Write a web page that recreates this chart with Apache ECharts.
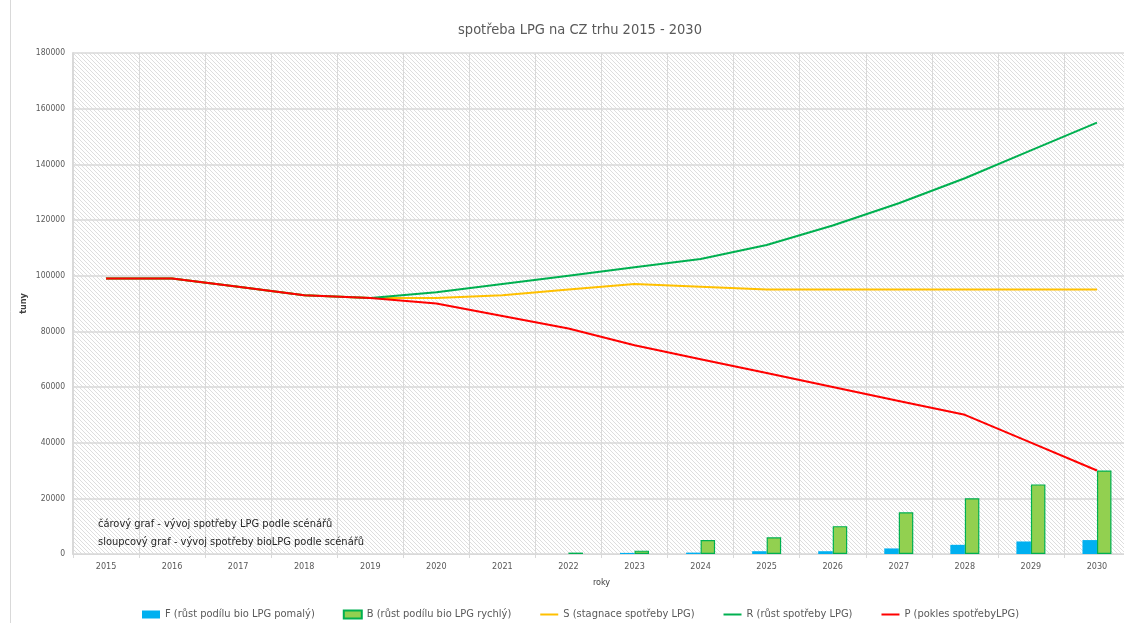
<!DOCTYPE html>
<html>
<head>
<meta charset="utf-8">
<script src="https://cdn.jsdelivr.net/npm/echarts@6/dist/echarts.min.js"></script>
<style>
  html, body { margin: 0; padding: 0; background: #ffffff; }
  #chart { width: 1124px; height: 623px; }
</style>
</head>
<body>
<div id="chart"></div>
<script>
// Years on the category axis
const years = ['2015','2016','2017','2018','2019','2020','2021','2022','2023','2024','2025','2026','2027','2028','2029','2030'];

// bioLPG scenarios (bars), tonnes
const bioSlow = [null,null,null,null,null,null,null,null,400,500,1000,1000,2000,3300,4500,5000];
const bioFast = [null,null,null,null,null,null,null,500,1200,5000,6000,10000,15000,20000,25000,30000];

// LPG consumption scenarios (lines), tonnes
const stagnation = [99000,99000,96000,93000,92000,92000,93000,95000,97000,96000,95000,95000,95000,95000,95000,95000];
const growth     = [99000,99000,96000,93000,92000,94000,97000,100000,103000,106000,111000,118000,126000,135000,145000,155000];
const decline    = [99000,99000,96000,93000,92000,90000,85500,81000,75000,70000,65000,60000,55000,50000,40000,30000];

// Value axis range
const yMin = 0, yMax = 180000, yStep = 20000;

const FONT = '"DejaVu Sans Condensed", "Liberation Sans", sans-serif';

// light downward-diagonal hatch for the plot area
function hatch() {
  const c = document.createElement('canvas');
  c.width = 4; c.height = 4;
  const g = c.getContext('2d');
  g.fillStyle = '#ffffff';
  g.fillRect(0, 0, 4, 4);
  g.fillStyle = '#dedede';
  for (let i = 0; i < 4; i++) g.fillRect(i, i, 1, 1);
  return c;
}

const chart = echarts.init(document.getElementById('chart'), null, { renderer: 'canvas' });

// line legend entries show only the stroke, no marker
const noMarker = { opacity: 0 };

chart.setOption({
  animation: false,
  backgroundColor: '#ffffff',
  title: {
    text: 'spotřeba LPG na CZ trhu 2015 - 2030',
    left: 575,
    top: 18,
    textAlign: 'center',
    textStyle: { fontFamily: FONT, fontSize: 14.5, fontWeight: 'normal', color: '#595959' }
  },
  legend: {
    top: 604,
    left: 137,
    itemWidth: 18,
    itemHeight: 8,
    itemGap: 28,
    textStyle: { fontFamily: FONT, fontSize: 11, color: '#595959' },
    data: [
      { name: 'F (růst podílu bio LPG pomalý)', icon: 'rect' },
      { name: 'B (růst podílu bio LPG rychlý)', icon: 'rect' },
      { name: 'S (stagnace spotřeby LPG)', itemStyle: noMarker },
      { name: 'R (růst spotřeby LPG)', itemStyle: noMarker },
      { name: 'P (pokles spotřebyLPG)', itemStyle: noMarker }
    ]
  },
  grid: {
    left: 73,
    top: 53,
    width: 1057,
    height: 501,
    outerBoundsMode: 'none',
    show: true,
    borderWidth: 0,
    backgroundColor: { image: hatch(), repeat: 'repeat' }
  },
  xAxis: {
    type: 'category',
    data: years,
    boundaryGap: true,
    name: 'roky',
    nameLocation: 'middle',
    nameGap: 24,
    nameTextStyle: { fontFamily: FONT, fontSize: 9, color: '#404040' },
    axisLine: { lineStyle: { color: '#d9d9d9', width: 1 } },
    axisTick: { show: true, length: 4, lineStyle: { color: '#d9d9d9' } },
    axisLabel: { fontFamily: FONT, fontSize: 9, color: '#595959', margin: 8 },
    splitLine: { show: true, lineStyle: { color: '#d9d9d9', width: 1 } }
  },
  yAxis: {
    type: 'value',
    min: yMin,
    max: yMax,
    interval: yStep,
    name: 'tuny',
    nameLocation: 'middle',
    nameGap: 45,
    nameMoveOverlap: false,
    nameTextStyle: { fontFamily: FONT, fontSize: 9, fontWeight: 'bold', color: '#404040' },
    axisLine: { show: true, lineStyle: { color: '#d9d9d9', width: 2 } },
    axisTick: { show: false },
    axisLabel: { fontFamily: FONT, fontSize: 8.5, color: '#595959', margin: 8, formatter: v => String(v) },
    splitLine: { show: true, lineStyle: { color: '#d9d9d9', width: 1.5 } }
  },
  graphic: [
    { type: 'line', shape: { x1: 10.5, y1: 0, x2: 10.5, y2: 623 }, style: { stroke: '#d9d9d9', lineWidth: 1 }, silent: true },
    { type: 'text', left: 98, top: 519, style: { text: 'čárový graf - vývoj spotřeby LPG podle scénářů', fontFamily: FONT, fontSize: 11, fill: '#262626' }, z: 100 },
    { type: 'text', left: 98, top: 537, style: { text: 'sloupcový graf - vývoj spotřeby bioLPG podle scénářů', fontFamily: FONT, fontSize: 11, fill: '#262626' }, z: 100 }
  ],
  series: [
    {
      name: 'F (růst podílu bio LPG pomalý)',
      type: 'bar',
      data: bioSlow,
      barWidth: 14.5,
      barGap: '0%',
      itemStyle: { color: '#00b0f0' },
      z: 2
    },
    {
      name: 'B (růst podílu bio LPG rychlý)',
      type: 'bar',
      data: bioFast,
      barWidth: 14.5,
      barGap: '0%',
      itemStyle: { color: '#92d050', borderColor: '#00b050', borderWidth: 1.2 },
      z: 2
    },
    {
      name: 'S (stagnace spotřeby LPG)',
      type: 'line',
      data: stagnation,
      symbol: 'none',
      lineStyle: { color: '#ffc000', width: 2 },
      itemStyle: { color: '#ffc000' },
      z: 3
    },
    {
      name: 'R (růst spotřeby LPG)',
      type: 'line',
      data: growth,
      symbol: 'none',
      lineStyle: { color: '#00b050', width: 2 },
      itemStyle: { color: '#00b050' },
      z: 4
    },
    {
      name: 'P (pokles spotřebyLPG)',
      type: 'line',
      data: decline,
      symbol: 'none',
      lineStyle: { color: '#ff0000', width: 2 },
      itemStyle: { color: '#ff0000' },
      z: 5
    }
  ]
});
</script>
</body>
</html>
